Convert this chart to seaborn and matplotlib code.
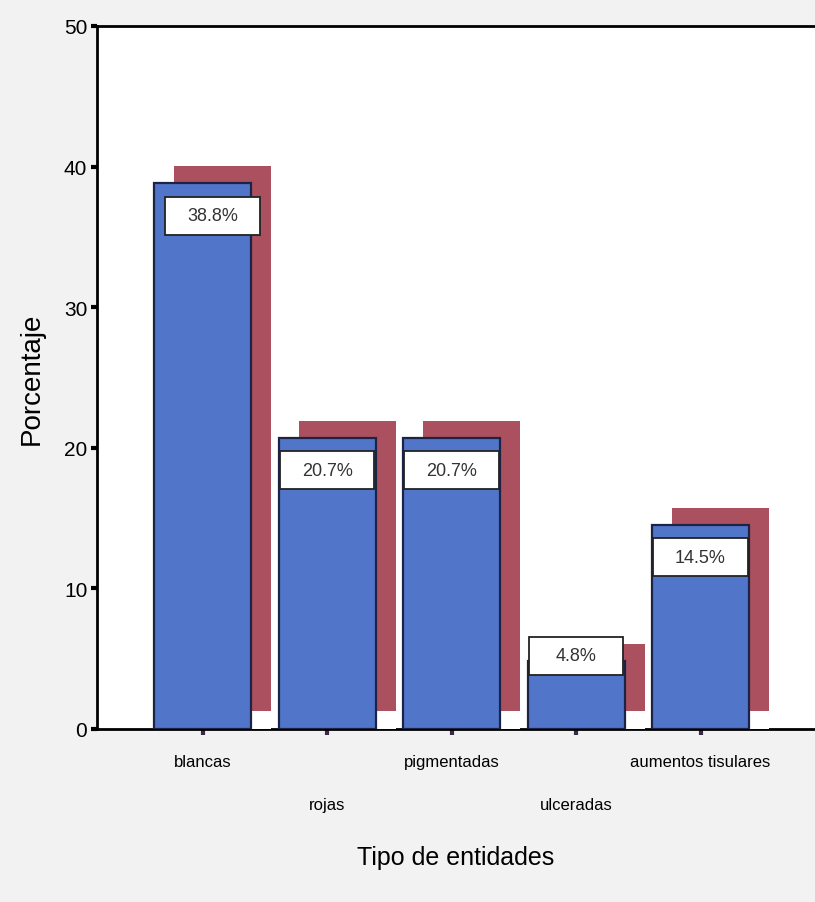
import matplotlib
matplotlib.use("Agg")
import matplotlib.pyplot as plt
from matplotlib.transforms import ScaledTranslation
from matplotlib.patches import Rectangle
import seaborn as sns
import pandas as pd

categories = ["blancas", "rojas", "pigmentadas", "ulceradas", "aumentos tisulares"]
percentages = [38.8, 20.7, 20.7, 4.8, 14.5]
value_labels = ["38.8%", "20.7%", "20.7%", "4.8%", "14.5%"]
y_ticks = [0, 10, 20, 30, 40, 50]

BLUE = "#5075c9"
SHADOW = "#ab505e"
EDGE = "#1c2446"

sns.set_theme(style="white")
plt.rcParams["font.family"] = ["Liberation Sans", "DejaVu Sans"]
plt.rcParams["text.color"] = "black"
plt.rcParams["axes.labelcolor"] = "black"
plt.rcParams["xtick.color"] = "black"
plt.rcParams["ytick.color"] = "black"

df = pd.DataFrame({"tipo": categories, "pct": percentages})

fig = plt.figure(figsize=(8.15, 9.03), dpi=100, facecolor="#f2f2f2")
ax = fig.add_axes([0.119, 0.1916, 0.881, 0.7786])
ax.set_facecolor("white")

# drop shadow: same bars shifted up and to the right
sns.barplot(data=df, x="tipo", y="pct", order=categories, color=SHADOW,
            width=0.78, saturation=1, linewidth=0, ax=ax, zorder=2)
n_shadow = len(ax.patches)
shift = ax.transData + ScaledTranslation(0.20, 0.17, fig.dpi_scale_trans)
for p in ax.patches[:n_shadow]:
    p.set_transform(shift)
    p.set_facecolor(SHADOW)

# white gap under each shadow
sns.barplot(data=df.assign(pct=1.25), x="tipo", y="pct", order=categories,
            color="white", width=0.78, saturation=1, linewidth=0, ax=ax, zorder=3)
n_gap = len(ax.patches)
shift_x = ax.transData + ScaledTranslation(0.20, 0.0, fig.dpi_scale_trans)
for p in ax.patches[n_shadow:n_gap]:
    p.set_transform(shift_x)
    p.set_facecolor("white")

# main bars
sns.barplot(data=df, x="tipo", y="pct", order=categories, color=BLUE,
            width=0.78, saturation=1, edgecolor=EDGE, linewidth=1.6,
            ax=ax, zorder=4)
for p in ax.patches[n_gap:]:
    p.set_facecolor(BLUE)

# value boxes
box_w, box_h = 0.76, 2.7
for i, (v, lab) in enumerate(zip(percentages, value_labels)):
    yc = v - 2.3 if v > 10 else v + 0.4
    xc = i + (0.08 if i == 0 else 0.0)
    ax.add_patch(Rectangle((xc - box_w / 2, yc - box_h / 2), box_w, box_h,
                           facecolor="white", edgecolor="#222222",
                           linewidth=1.3, zorder=5))
    ax.text(xc, yc, lab, ha="center", va="center", fontsize=13,
            color="#333333", zorder=6)

ax.set_xlim(-0.85, 4.92)
ax.set_ylim(0, 50)
ax.set_yticks(y_ticks)
ax.set_yticklabels([str(t) for t in y_ticks], fontsize=15)
ax.set_xticks(range(len(categories)))
ax.set_xticklabels(categories, fontsize=12)

ax.tick_params(axis="y", length=4, width=3, color="black", pad=3, left=True)
ax.tick_params(axis="x", length=4, width=3, color="#3a2a45", pad=14, bottom=True)

# stagger every second category label onto a lower row
for i, tick in enumerate(ax.xaxis.get_major_ticks()):
    if i % 2 == 1:
        tick.set_pad(45)

for side in ["left", "top", "bottom"]:
    ax.spines[side].set_visible(True)
    ax.spines[side].set_color("black")
    ax.spines[side].set_linewidth(2)
    ax.spines[side].set_zorder(1)
ax.spines["right"].set_visible(False)

ax.set_xlabel("Tipo de entidades", fontsize=18, labelpad=24)
ax.set_ylabel("Porcentaje", fontsize=20, labelpad=14)
ax.grid(False)

fig.savefig("out.png", dpi=100, facecolor=fig.get_facecolor())
